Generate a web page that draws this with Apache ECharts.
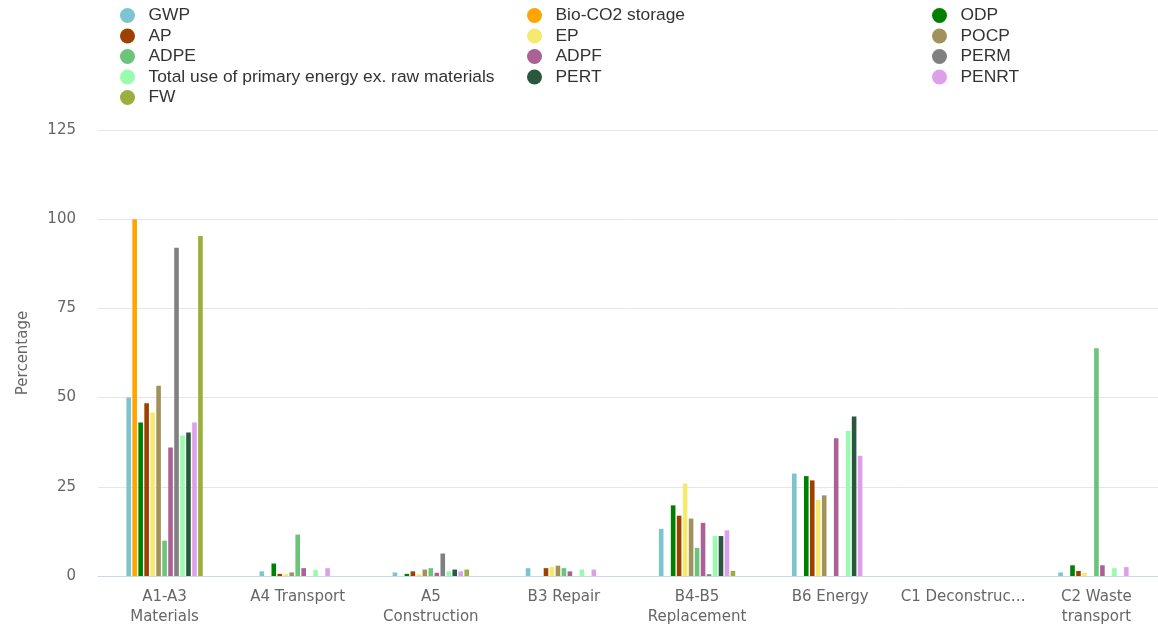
<!DOCTYPE html>
<html>
<head>
<meta charset="utf-8">
<style>
  html, body { margin: 0; padding: 0; background: #ffffff; overflow: hidden; }
  #chart { width: 1166px; height: 632px; }
</style>
<script src="https://cdn.jsdelivr.net/npm/echarts@6/dist/echarts.min.js"></script>
</head>
<body>
<div id="chart"></div>
<script>
// Life-cycle stages shown on the category axis
const categories = [
  'A1-A3\nMaterials', 'A4 Transport', 'A5\nConstruction', 'B3 Repair',
  'B4-B5\nReplacement', 'B6 Energy', 'C1 Deconstruction', 'C2 Waste\ntransport'
];

// Share (%) of each indicator per stage; null = no contribution
const gwp     = [50,   1.3,  1.0,  2.2,  13.2, 28.7, null, 1.0];
const bioCO2  = [100,  null, null, null, null, null, null, null];
const odp     = [43,   3.5,  0.6,  null, 19.8, 28.0, null, 3.0];
const ap      = [48.4, 0.6,  1.3,  2.2,  16.9, 26.8, null, 1.4];
const ep      = [45.8, 0.5,  0.5,  2.5,  25.9, 21.3, null, 0.9];
const pocp    = [53.3, 1.0,  1.8,  2.9,  16.1, 22.6, null, null];
const adpe    = [9.9,  11.6, 2.2,  2.2,  7.9,  null, null, 63.8];
const adpf    = [36,   2.2,  0.9,  1.3,  14.9, 38.6, null, 3.0];
const perm    = [92,   null, 6.3,  null, 0.5,  null, null, null];
const totalPE = [39.4, 1.7,  1.3,  1.8,  11.2, 40.7, null, 2.2];
const pert    = [40.2, null, 1.8,  null, 11.2, 44.7, null, null];
const penrt   = [43,   2.2,  1.3,  1.8,  12.8, 33.7, null, 2.5];
const fw      = [95.3, null, 1.8,  null, 1.4,  null, null, null];

const yTicks = { min: 0, max: 125, step: 25 };

const seriesDefs = [
  { name: 'GWP', data: gwp, color: '#7cc5ce' },
  { name: 'Bio-CO2 storage', data: bioCO2, color: '#ffa500' },
  { name: 'ODP', data: odp, color: '#008000' },
  { name: 'AP', data: ap, color: '#9c4100' },
  { name: 'EP', data: ep, color: '#f5e96e' },
  { name: 'POCP', data: pocp, color: '#a0925a' },
  { name: 'ADPE', data: adpe, color: '#6ac47a' },
  { name: 'ADPF', data: adpf, color: '#ab6096' },
  { name: 'PERM', data: perm, color: '#808080' },
  { name: 'Total use of primary energy ex. raw materials', data: totalPE, color: '#98fbb0' },
  { name: 'PERT', data: pert, color: '#2a5740' },
  { name: 'PENRT', data: penrt, color: '#dda0e8' },
  { name: 'FW', data: fw, color: '#9aaf3c' }
];

// Legend laid out in three columns, filled row by row
const legendColumns = [
  ['GWP', 'AP', 'ADPE', 'Total use of primary energy ex. raw materials', 'FW'],
  ['Bio-CO2 storage', 'EP', 'ADPF', 'PERT'],
  ['ODP', 'POCP', 'PERM', 'PENRT']
];
const legendLefts = [115, 522, 927];

const axisFont = 'DejaVu Sans';

const chart = echarts.init(document.getElementById('chart'), null, { renderer: 'canvas' });

const option = {
  backgroundColor: '#ffffff',
  animation: false,
  legend: legendColumns.map((names, i) => ({
    data: names,
    orient: 'vertical',
    left: legendLefts[i],
    top: 2,
    icon: 'circle',
    itemWidth: 32,
    itemHeight: 15,
    itemGap: 3.5,
    textStyle: { fontFamily: 'Liberation Sans', fontSize: 17.4, color: '#333333', lineHeight: 17 },
    selectedMode: false
  })),
  grid: { left: 98, top: 130, right: 3, bottom: 56, containLabel: false },
  xAxis: {
    type: 'category',
    data: categories,
    axisLine: { lineStyle: { color: '#ccd6eb', width: 1 } },
    axisTick: { show: false },
    axisLabel: {
      interval: 0,
      color: '#666666',
      fontFamily: axisFont,
      fontSize: 15,
      lineHeight: 20,
      margin: 11,
      width: 130,
      overflow: 'truncate',
      ellipsis: '…'
    }
  },
  yAxis: {
    type: 'value',
    min: yTicks.min,
    max: yTicks.max,
    interval: yTicks.step,
    name: 'Percentage',
    nameLocation: 'middle',
    nameGap: 67,
    nameTextStyle: { color: '#666666', fontFamily: axisFont, fontSize: 15 },
    axisLine: { show: false },
    axisTick: { show: false },
    axisLabel: { color: '#666666', fontFamily: axisFont, fontSize: 15, margin: 22 },
    splitLine: { lineStyle: { color: '#e6e6e6', width: 1 } }
  },
  series: seriesDefs.map(s => ({
    name: s.name,
    type: 'bar',
    data: s.data,
    barWidth: 4.6,
    barGap: '30%',
    itemStyle: { color: s.color }
  }))
};

chart.setOption(option);
</script>
</body>
</html>
